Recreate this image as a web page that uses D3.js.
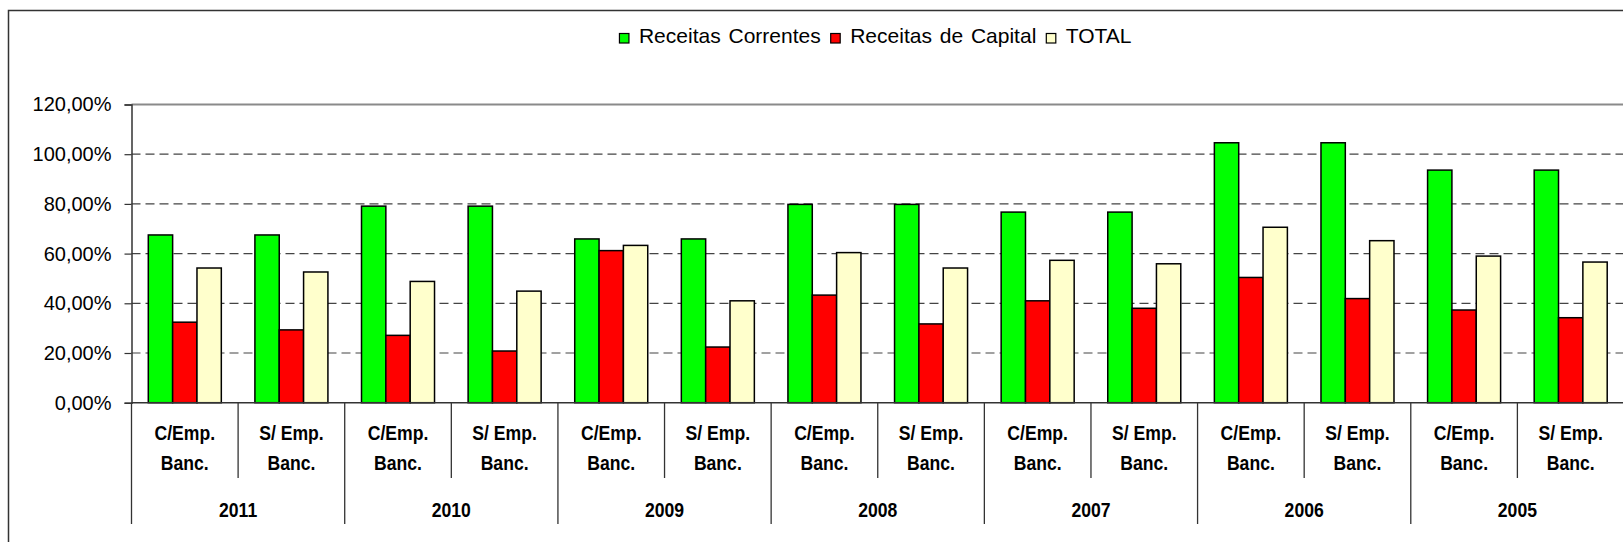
<!DOCTYPE html>
<html>
<head>
<meta charset="utf-8">
<script src="https://cdn.jsdelivr.net/npm/d3@7"></script>
<style>
  body { margin: 0; background: #fff; overflow: hidden; }
  svg { display: block; font-family: "Liberation Sans", Arial, sans-serif; }
</style>
</head>
<body>
<script>
// years, each split in two sub categories (with / without bank loans)
const years = ["2011", "2010", "2009", "2008", "2007", "2006", "2005"];
const subCats = [["C/Emp.", "Banc."], ["S/ Emp.", "Banc."]];
const series = ["Receitas Correntes", "Receitas de Capital", "TOTAL"];
const colors = ["#00ff00", "#ff0000", "#ffffcc"];

// values in %, one per sub category (2011 C, 2011 S, 2010 C, ...)
const correntes = [67.5, 67.5, 79.1, 79.1, 65.9, 65.9, 79.8, 79.8, 76.7, 76.7, 104.6, 104.6, 93.6, 93.6];
const capital   = [32.4, 29.3, 27.1, 20.8, 61.2, 22.4, 43.3, 31.7, 41.0, 38.0, 50.4, 41.9, 37.3, 34.2];
const total     = [54.2, 52.6, 48.8, 44.9, 63.3, 41.0, 60.4, 54.2, 57.3, 55.9, 70.6, 65.2, 59.0, 56.6];
const yTicks = [0, 20, 40, 60, 80, 100, 120];

const W = 1623, H = 542;
const m = {left: 131.5, right: 1624, top: 104.5, bottom: 402.7};

const cats = [];
years.forEach((y, i) => subCats.forEach((s, j) => cats.push({year: y, sub: s, idx: i * 2 + j})));
const values = [correntes, capital, total];

const svg = d3.select("body").append("svg")
  .attr("width", W)
  .attr("height", H);

// outer chart border (runs past the cropped edges)
svg.append("rect")
  .attr("x", 8.5).attr("y", 10.5)
  .attr("width", 1800).attr("height", 700)
  .attr("fill", "none")
  .attr("stroke", "#333")
  .attr("stroke-width", 1.5);

let x = d3.scaleBand().domain(cats.map(d => d.idx)).range([m.left, m.right]).padding(0);
let xIn = d3.scaleBand().domain([0, 1, 2]).range([0, x.bandwidth()]).paddingInner(0).paddingOuter(0.69);
let y = d3.scaleLinear().domain([0, 120]).range([m.bottom, m.top]);

const fmt = d3.formatLocale({decimal: ",", thousands: ".", grouping: [3], currency: ["", ""]}).format(".2f");

// gridlines
svg.append("g").selectAll("line")
  .data(yTicks.filter(t => t > 0))
  .enter().append("line")
  .attr("x1", m.left).attr("x2", m.right)
  .attr("y1", d => y(d)).attr("y2", d => y(d))
  .attr("stroke", d => d == 120 ? "#8a8a8a" : "#444")
  .attr("stroke-width", d => d == 120 ? 2 : 1.2)
  .attr("stroke-dasharray", d => d == 120 ? null : "9,5");

// y axis
let yAxis = svg.append("g")
  .attr("transform", "translate(" + m.left + ",0)")
  .call(d3.axisLeft(y).tickValues(yTicks).tickSize(7).tickPadding(13).tickFormat(d => fmt(d) + "%"));
yAxis.select(".domain").attr("stroke", "#333").attr("stroke-width", 1.5);
yAxis.selectAll(".tick line").attr("stroke", "#333").attr("stroke-width", 1.2);
yAxis.selectAll("text")
  .attr("font-family", "'Liberation Sans', Arial, sans-serif")
  .attr("font-size", "20px")
  .attr("fill", "#000");

// bars
let groups = svg.append("g").selectAll("g")
  .data(cats)
  .enter().append("g")
  .attr("transform", d => "translate(" + x(d.idx) + ",0)");

groups.selectAll("rect")
  .data(d => values.map((v, k) => ({k: k, v: v[d.idx]})))
  .enter().append("rect")
  .attr("x", d => xIn(d.k))
  .attr("width", xIn.bandwidth())
  .attr("y", d => y(d.v))
  .attr("height", d => y(0) - y(d.v))
  .attr("fill", d => colors[d.k])
  .attr("stroke", "#000")
  .attr("stroke-width", 1.5);

// category axis
svg.append("line")
  .attr("x1", m.left).attr("x2", m.right)
  .attr("y1", m.bottom).attr("y2", m.bottom)
  .attr("stroke", "#333").attr("stroke-width", 1.5);

// separators: between sub categories (short) and years (long)
svg.append("g").selectAll("line")
  .data(d3.range(cats.length + 1))
  .enter().append("line")
  .attr("x1", i => m.left + i * x.step())
  .attr("x2", i => m.left + i * x.step())
  .attr("y1", m.bottom)
  .attr("y2", i => i % 2 == 0 ? 524 : 478)
  .attr("stroke", "#333")
  .attr("stroke-width", 1.3);

// sub category labels, two lines
let lab = svg.append("g").selectAll("g")
  .data(cats)
  .enter().append("g");
[440, 470].forEach((ly, li) => {
  lab.append("text")
    .attr("transform", d => "translate(" + (x(d.idx) + x.bandwidth() / 2) + "," + ly + ") scale(0.88,1)")
    .attr("text-anchor", "middle")
    .attr("font-size", "20px")
    .attr("font-weight", "bold")
    .text(d => d.sub[li]);
});

// year labels
svg.append("g").selectAll("text")
  .data(years)
  .enter().append("text")
  .attr("transform", (d, i) => "translate(" + (m.left + (i * 2 + 1) * x.step()) + ",516.5) scale(0.88,1)")
  .attr("text-anchor", "middle")
  .attr("font-size", "20px")
  .attr("font-weight", "bold")
  .text(d => d);

// legend, centred over the plot
let legend = svg.append("g");
let lx = 0;
series.forEach((s, i) => {
  let it = legend.append("g").attr("transform", "translate(" + lx + ",0)");
  it.append("rect")
    .attr("x", 0).attr("y", 33.5)
    .attr("width", 9.5).attr("height", 9.5)
    .attr("fill", colors[i])
    .attr("stroke", "#000")
    .attr("stroke-width", 1.2);
  let t = it.append("text")
    .attr("x", 19.5).attr("y", 42.7)
    .attr("font-size", "21px")
    .attr("word-spacing", "2px")
    .text(s);
  lx += 19.5 + t.node().getComputedTextLength() + 10;
});
let lw = lx - 10;
legend.attr("transform", "translate(" + (875.5 - lw / 2) + ",0)");
</script>
</body>
</html>
